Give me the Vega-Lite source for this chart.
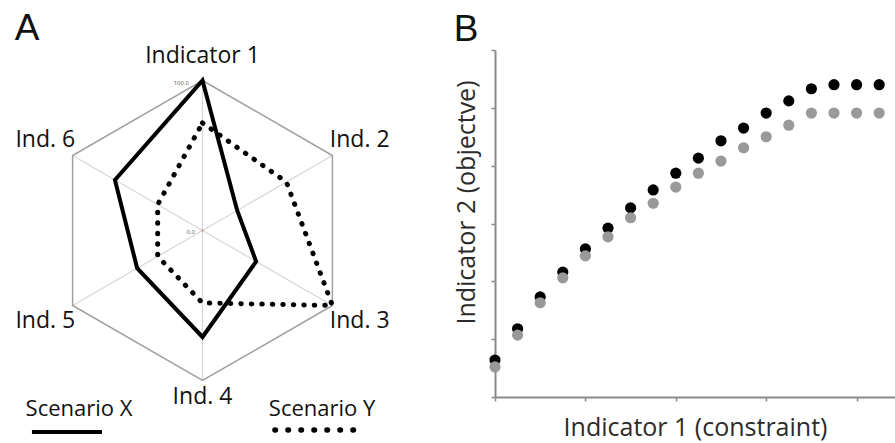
{
  "$schema": "https://vega.github.io/schema/vega-lite/v6.json",
  "width": 400,
  "height": 347,
  "autosize": {"type": "none"},
  "padding": {"left": 495, "top": 50, "right": 0, "bottom": 46},
  "config": {"view": {"stroke": null}, "font": "Open Sans"},
  "datasets": {
    "scatter": [
      {"i": 0, "series": "Scenario X", "v": 0.64}, {"i": 1, "series": "Scenario X", "v": 1.18},
      {"i": 2, "series": "Scenario X", "v": 1.73}, {"i": 3, "series": "Scenario X", "v": 2.16},
      {"i": 4, "series": "Scenario X", "v": 2.56}, {"i": 5, "series": "Scenario X", "v": 2.92},
      {"i": 6, "series": "Scenario X", "v": 3.27}, {"i": 7, "series": "Scenario X", "v": 3.58},
      {"i": 8, "series": "Scenario X", "v": 3.87}, {"i": 9, "series": "Scenario X", "v": 4.13},
      {"i": 10, "series": "Scenario X", "v": 4.43}, {"i": 11, "series": "Scenario X", "v": 4.65},
      {"i": 12, "series": "Scenario X", "v": 4.91}, {"i": 13, "series": "Scenario X", "v": 5.12},
      {"i": 14, "series": "Scenario X", "v": 5.33}, {"i": 15, "series": "Scenario X", "v": 5.40},
      {"i": 16, "series": "Scenario X", "v": 5.40}, {"i": 17, "series": "Scenario X", "v": 5.40},
      {"i": 18, "series": "Scenario X", "v": 5.40},
      {"i": 0, "series": "Scenario Y", "v": 0.52}, {"i": 1, "series": "Scenario Y", "v": 1.07},
      {"i": 2, "series": "Scenario Y", "v": 1.63}, {"i": 3, "series": "Scenario Y", "v": 2.06},
      {"i": 4, "series": "Scenario Y", "v": 2.44}, {"i": 5, "series": "Scenario Y", "v": 2.77},
      {"i": 6, "series": "Scenario Y", "v": 3.10}, {"i": 7, "series": "Scenario Y", "v": 3.35},
      {"i": 8, "series": "Scenario Y", "v": 3.63}, {"i": 9, "series": "Scenario Y", "v": 3.87},
      {"i": 10, "series": "Scenario Y", "v": 4.08}, {"i": 11, "series": "Scenario Y", "v": 4.31},
      {"i": 12, "series": "Scenario Y", "v": 4.50}, {"i": 13, "series": "Scenario Y", "v": 4.70},
      {"i": 14, "series": "Scenario Y", "v": 4.91}, {"i": 15, "series": "Scenario Y", "v": 4.91},
      {"i": 16, "series": "Scenario Y", "v": 4.91}, {"i": 17, "series": "Scenario Y", "v": 4.91},
      {"i": 18, "series": "Scenario Y", "v": 4.91}
    ],
    "axes": [
      {"ind": "Indicator 1", "k": 0}, {"ind": "Ind. 2", "k": 1}, {"ind": "Ind. 3", "k": 2},
      {"ind": "Ind. 4", "k": 3}, {"ind": "Ind. 5", "k": 4}, {"ind": "Ind. 6", "k": 5}
    ],
    "radar": [
      {"scenario": "Scenario X", "k": 0, "value": 100}, {"scenario": "Scenario X", "k": 1, "value": 26.7},
      {"scenario": "Scenario X", "k": 2, "value": 41.3}, {"scenario": "Scenario X", "k": 3, "value": 71},
      {"scenario": "Scenario X", "k": 4, "value": 50.3}, {"scenario": "Scenario X", "k": 5, "value": 67.4},
      {"scenario": "Scenario Y", "k": 0, "value": 71.7}, {"scenario": "Scenario Y", "k": 1, "value": 64.6},
      {"scenario": "Scenario Y", "k": 2, "value": 100}, {"scenario": "Scenario Y", "k": 3, "value": 48.3},
      {"scenario": "Scenario Y", "k": 4, "value": 34.5}, {"scenario": "Scenario Y", "k": 5, "value": 34.5}
    ]
  },
  "layer": [
    {
      "data": {"name": "scatter"},
      "mark": {"type": "circle", "size": 125, "opacity": 1},
      "encoding": {
        "x": {
          "field": "i", "type": "quantitative",
          "scale": {"domain": [0, 17.7], "nice": false, "zero": false},
          "axis": {
            "title": "Indicator 1 (constraint)", "values": [0, 4, 8, 12, 16], "labels": false, "grid": false,
            "domainColor": "#8a8a8a", "domainWidth": 2, "tickColor": "#8a8a8a", "tickSize": 4, "tickWidth": 1.5,
            "titleFont": "Open Sans", "titleFontSize": 25, "titleFontWeight": "normal", "titleColor": "#2b2b2b",
            "titlePadding": 14
          }
        },
        "y": {
          "field": "v", "type": "quantitative",
          "scale": {"domain": [0, 6], "nice": false, "zero": false},
          "axis": {
            "title": "Indicator 2 (objectve)", "values": [0, 1, 2, 3, 4, 5, 6], "labels": false, "grid": false,
            "domainColor": "#8a8a8a", "domainWidth": 2, "tickColor": "#8a8a8a", "tickSize": 4, "tickWidth": 1.5,
            "titleFont": "Open Sans", "titleFontSize": 25, "titleFontWeight": "normal", "titleColor": "#2b2b2b",
            "titlePadding": 11, "titleY": 152
          }
        },
        "color": {
          "field": "series", "type": "nominal",
          "scale": {"domain": ["Scenario X", "Scenario Y"], "range": ["#000000", "#999999"]},
          "legend": null
        }
      }
    },
    {
      "data": {"name": "axes"},
      "transform": [
        {"calculate": "100*sin(datum.k*PI/3)", "as": "hx"},
        {"calculate": "100*cos(datum.k*PI/3)", "as": "hy"},
        {"calculate": "datum.k==0 ? 116 : (datum.k==3 ? 111 : 121)", "as": "lr"},
        {"calculate": "datum.lr*sin(datum.k*PI/3)", "as": "lx"},
        {"calculate": "datum.lr*cos(datum.k*PI/3)", "as": "ly"}
      ],
      "encoding": {
        "x": {"field": "hx", "type": "quantitative", "scale": {"domain": [195, 461.667], "nice": false, "zero": false}, "axis": null},
        "y": {"field": "hy", "type": "quantitative", "scale": {"domain": [-111, 120.333], "nice": false, "zero": false}, "axis": null}
      },
      "layer": [
        {
          "mark": {"type": "rule", "color": "#d6d6d6", "strokeWidth": 1.2},
          "encoding": {"x2": {"datum": 0}, "y2": {"datum": 0}}
        },
        {
          "mark": {"type": "line", "interpolate": "linear-closed", "color": "#a0a0a0", "strokeWidth": 1.5},
          "encoding": {"order": {"field": "k"}}
        },
        {
          "mark": {"type": "text", "font": "Open Sans", "fontSize": 23, "color": "#111111", "baseline": "middle", "align": "center"},
          "encoding": {
            "x": {"field": "lx", "type": "quantitative"},
            "y": {"field": "ly", "type": "quantitative"},
            "text": {"field": "ind"}
          }
        },
        {
          "transform": [{"filter": "datum.k == 0"}],
          "mark": {"type": "text", "fontSize": 6, "color": "#555555", "align": "right", "baseline": "middle", "text": "100.0"},
          "encoding": {"x": {"datum": -9, "type": "quantitative"}, "y": {"datum": 98, "type": "quantitative"}}
        },
        {
          "transform": [{"filter": "datum.k == 0"}],
          "mark": {"type": "text", "fontSize": 6, "color": "#555555", "align": "right", "baseline": "middle", "text": "0.0"},
          "encoding": {"x": {"datum": -5, "type": "quantitative"}, "y": {"datum": -1, "type": "quantitative"}}
        },
        {
          "transform": [{"filter": "datum.k == 0"}],
          "mark": {"type": "circle", "size": 5, "color": "#e08080", "opacity": 1},
          "encoding": {"x": {"datum": 0, "type": "quantitative"}, "y": {"datum": 0, "type": "quantitative"}}
        },
        {
          "data": {"name": "radar"},
          "transform": [
            {"filter": "datum.scenario == 'Scenario Y'"},
            {"calculate": "datum.value*sin(datum.k*PI/3)", "as": "hx"},
            {"calculate": "datum.value*cos(datum.k*PI/3)", "as": "hy"}
          ],
          "mark": {"type": "line", "interpolate": "linear-closed", "color": "#000000", "strokeWidth": 5, "strokeCap": "round", "strokeDash": [0.5, 10]},
          "encoding": {"order": {"field": "k"}}
        },
        {
          "data": {"name": "radar"},
          "transform": [
            {"filter": "datum.scenario == 'Scenario X'"},
            {"calculate": "datum.value*sin(datum.k*PI/3)", "as": "hx"},
            {"calculate": "datum.value*cos(datum.k*PI/3)", "as": "hy"}
          ],
          "mark": {"type": "line", "interpolate": "linear-closed", "color": "#000000", "strokeWidth": 4},
          "encoding": {"order": {"field": "k"}}
        },
        {
          "transform": [{"filter": "datum.k == 0"}],
          "mark": {"type": "text", "font": "Open Sans", "fontSize": 22, "color": "#111111", "baseline": "middle", "align": "center", "text": "Scenario X"},
          "encoding": {"x": {"datum": -82.3, "type": "quantitative"}, "y": {"datum": -119, "type": "quantitative"}}
        },
        {
          "transform": [{"filter": "datum.k == 0"}],
          "mark": {"type": "text", "font": "Open Sans", "fontSize": 22, "color": "#111111", "baseline": "middle", "align": "center", "text": "Scenario Y"},
          "encoding": {"x": {"datum": 79.7, "type": "quantitative"}, "y": {"datum": -119, "type": "quantitative"}}
        },
        {
          "transform": [{"filter": "datum.k == 0"}],
          "mark": {"type": "rule", "color": "#000000", "strokeWidth": 4},
          "encoding": {"x": {"datum": -113.7, "type": "quantitative"}, "x2": {"datum": -67}, "y": {"datum": -134.3, "type": "quantitative"}}
        },
        {
          "transform": [{"filter": "datum.k == 0"}],
          "mark": {"type": "rule", "color": "#000000", "strokeWidth": 5.5, "strokeCap": "round", "strokeDash": [0.5, 12.5]},
          "encoding": {"x": {"datum": 48.3, "type": "quantitative"}, "x2": {"datum": 100.8}, "y": {"datum": -133, "type": "quantitative"}}
        },
        {
          "transform": [{"filter": "datum.k == 0"}],
          "mark": {"type": "text", "font": "Liberation Sans", "fontSize": 37, "color": "#111111", "baseline": "middle", "align": "center", "text": "A"},
          "encoding": {"x": {"datum": -117, "type": "quantitative"}, "y": {"datum": 134.5, "type": "quantitative"}}
        },
        {
          "transform": [{"filter": "datum.k == 0"}],
          "mark": {"type": "text", "font": "Liberation Sans", "fontSize": 37, "color": "#111111", "baseline": "middle", "align": "center", "text": "B"},
          "encoding": {"x": {"datum": 175.7, "type": "quantitative"}, "y": {"datum": 133.5, "type": "quantitative"}}
        }
      ]
    }
  ],
  "resolve": {"scale": {"x": "independent", "y": "independent"}}
}
